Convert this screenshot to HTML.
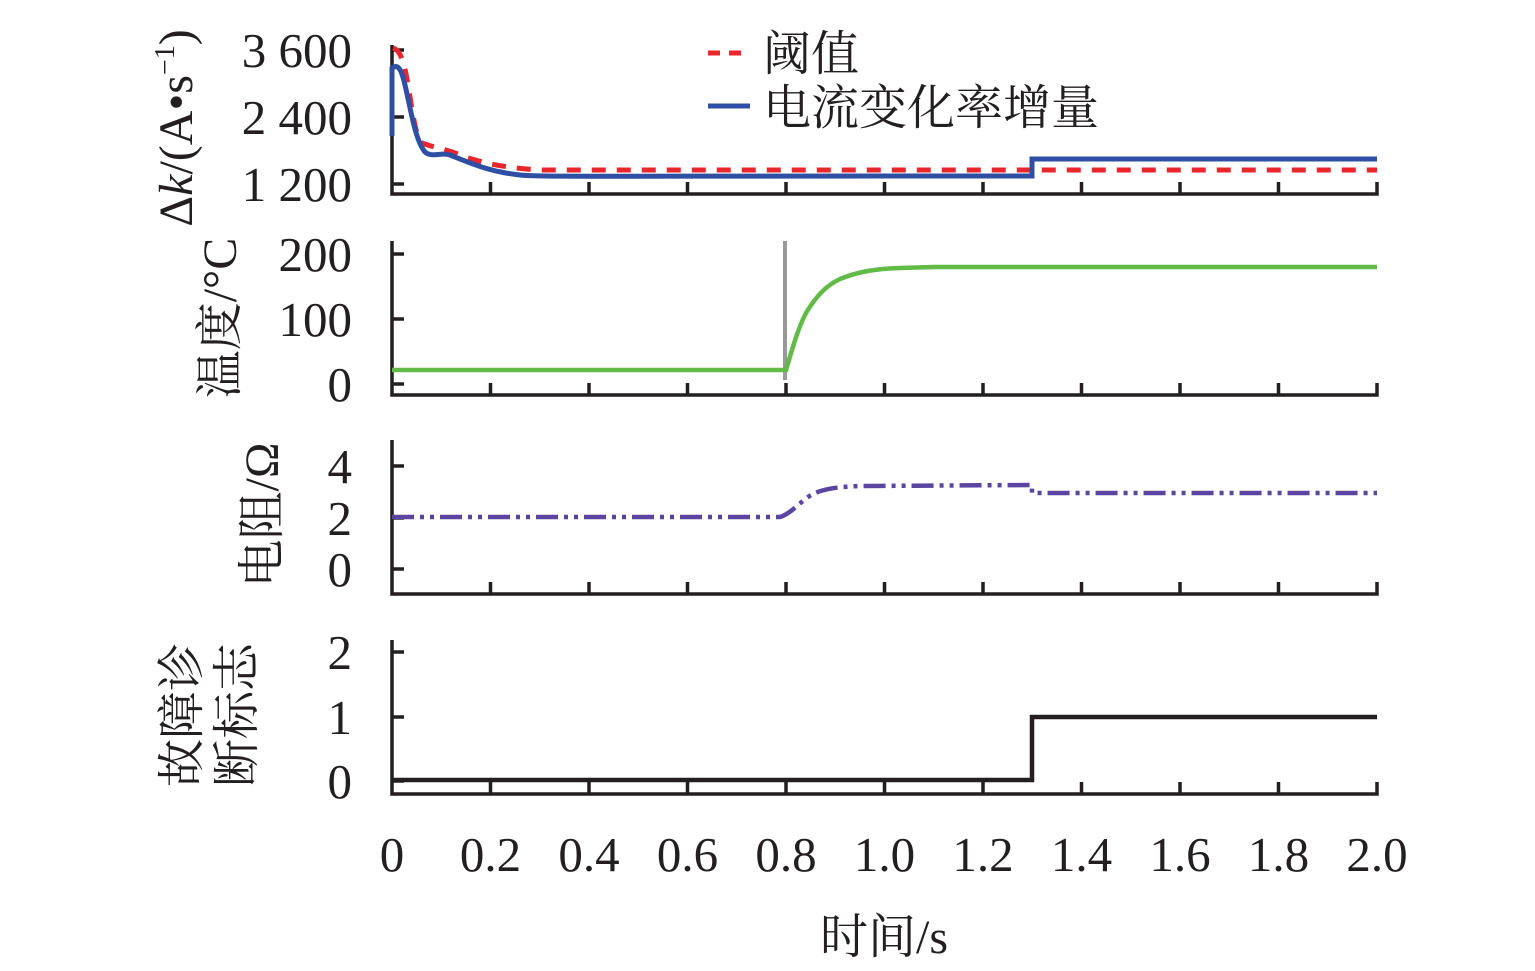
<!DOCTYPE html>
<html><head><meta charset="utf-8"><style>
html,body{margin:0;padding:0;background:#fff;}
svg{display:block;}
</style></head><body>
<svg width="1535" height="971" viewBox="0 0 1535 971" xmlns="http://www.w3.org/2000/svg" font-family="'Liberation Serif', 'Noto Serif CJK SC', serif" fill="#231f20">
<g stroke="#231f20" stroke-width="3.5" fill="none">
<path d="M392 45 V194 H1377 V182"/>
<path d="M392 50 h12 M392 117 h12 M392 184 h12"/>
<path d="M392 241 V395 H1377 V383"/>
<path d="M392 254 h12 M392 319 h12 M392 384 h12"/>
<path d="M392 440 V594 H1377 V582"/>
<path d="M392 466 h12 M392 518 h12 M392 569 h12"/>
<path d="M392 640 V794 H1377 V782"/>
<path d="M392 652 h12 M392 717 h12 M392 781 h12"/>
</g>
<g stroke="#231f20" stroke-width="3.5">
<path d="M490.5 194v-12 M589 194v-12 M687.5 194v-12 M786 194v-12 M884.5 194v-12 M983 194v-12 M1081.5 194v-12 M1180 194v-12 M1278.5 194v-12"/>
<path d="M490.5 395v-12 M589 395v-12 M687.5 395v-12 M786 395v-12 M884.5 395v-12 M983 395v-12 M1081.5 395v-12 M1180 395v-12 M1278.5 395v-12"/>
<path d="M490.5 594v-12 M589 594v-12 M687.5 594v-12 M786 594v-12 M884.5 594v-12 M983 594v-12 M1081.5 594v-12 M1180 594v-12 M1278.5 594v-12"/>
<path d="M490.5 794v-12 M589 794v-12 M687.5 794v-12 M786 794v-12 M884.5 794v-12 M983 794v-12 M1081.5 794v-12 M1180 794v-12 M1278.5 794v-12"/>
</g>
<path d="M393 48 C400 50,404 60,408 85 C413 115,416 138,422 143 C435 148,450 150,465 157 C490 165,510 168,540 170 L1032 170 L1377 170" stroke="#e8262c" stroke-width="5" fill="none" stroke-dasharray="14 11"/>
<path d="M392 136 V68 C398 64,401 68,405 85 C411 110,415 140,425 152 C432 158,440 152,450 155 C470 163,490 172,520 175 C540 177,560 176,1032 176 V159 H1377" stroke="#2e4fa3" stroke-width="5" fill="none"/>
<path d="M785 241 V380" stroke="#999" stroke-width="4"/>
<path d="M392 370 H786 C792 350,798 328,806 313 C815 298,825 286,840 279 C855 273,870 269,900 268 L934 267 H1377" stroke="#62bb46" stroke-width="4.5" fill="none"/>
<path d="M392 517 H780 C790 514,797 505,808 497 C820 489,835 487,860 486 L1032 485 V493 H1377" stroke="#5b45a0" stroke-width="4.5" fill="none" stroke-dasharray="22 6 4 6 4 6"/>
<path d="M392 780 H1032 V717 H1377" stroke="#231f20" stroke-width="4.5" fill="none"/>
<path d="M708 53 H750" stroke="#e8262c" stroke-width="5" stroke-dasharray="12 9"/>
<path d="M708 106 H750" stroke="#2e4fa3" stroke-width="5"/>
<text x="763" y="70" font-size="48">阈值</text>
<text x="763" y="124" font-size="48">电流变化率增量</text>
<g font-size="49" text-anchor="end">
<text x="352" y="67">3 600</text>
<text x="352" y="134">2 400</text>
<text x="352" y="201">1 200</text>
<text x="352" y="271">200</text>
<text x="352" y="336">100</text>
<text x="352" y="401">0</text>
<text x="352" y="483">4</text>
<text x="352" y="535">2</text>
<text x="352" y="586">0</text>
<text x="352" y="669">2</text>
<text x="352" y="734">1</text>
<text x="352" y="798">0</text>
</g>
<g font-size="49" text-anchor="middle">
<text x="392" y="871">0</text>
<text x="490.5" y="871">0.2</text>
<text x="589" y="871">0.4</text>
<text x="687.5" y="871">0.6</text>
<text x="786" y="871">0.8</text>
<text x="884.5" y="871">1.0</text>
<text x="983" y="871">1.2</text>
<text x="1081.5" y="871">1.4</text>
<text x="1180" y="871">1.6</text>
<text x="1278.5" y="871">1.8</text>
<text x="1377" y="871">2.0</text>
</g>
<text x="884" y="953" font-size="48" text-anchor="middle">时间/s</text>
<text transform="translate(192,128) rotate(-90)" font-size="48" text-anchor="middle">Δ<tspan font-style="italic">k</tspan>/(A•s<tspan font-size="28" dy="-18">−1</tspan><tspan dy="18">)</tspan></text>
<text transform="translate(236,318) rotate(-90)" font-size="48" text-anchor="middle">温度/°C</text>
<text transform="translate(278,515) rotate(-90)" font-size="48" text-anchor="middle">电阻/Ω</text>
<text transform="translate(198,715) rotate(-90)" font-size="48" text-anchor="middle">故障诊</text>
<text transform="translate(253,715) rotate(-90)" font-size="48" text-anchor="middle">断标志</text>
</svg>
</body></html>
